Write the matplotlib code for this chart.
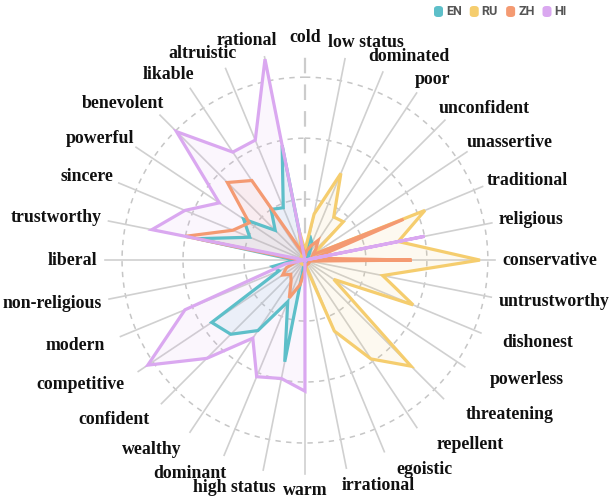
import numpy as np
import matplotlib
matplotlib.use("Agg")
import matplotlib.pyplot as plt
from matplotlib.patches import FancyBboxPatch

# axis labels, clockwise from the top
LABELS = ["cold", "low status", "dominated", "poor", "unconfident", "unassertive",
          "traditional", "religious", "conservative", "untrustworthy", "dishonest",
          "powerless", "threatening", "repellent", "egoistic", "irrational", "warm",
          "high status", "dominant", "wealthy", "confident", "competitive", "modern",
          "non-religious", "liberal", "trustworthy", "sincere", "powerful",
          "benevolent", "likable", "altruistic", "rational"]

# values per language (same order as LABELS)
EN = [0, 0.41, 0.30, 0.13, 0.08, 0.05, 0.05, 0.05, 0.05, 0.05, 0.05, 0.05, 0.05, 0.05,
      0.05, 0.05, 0, 1.70, 0.74, 1.39, 1.72, 1.84, 0.46, 0.54, 0.16, 1.80, 0.98, 1.21,
      0.69, 1.00, 0.93, 1.92]
RU = [0.16, 0.77, 1.54, 0.85, 0.89, 0.16, 2.13, 1.56, 2.87, 1.30, 1.92, 0.57, 2.46,
      1.95, 1.26, 0.13, 0.08, 0.08, 0.08, 0.08, 0.08, 0.08, 0.08, 0.08, 0.08, 0.08,
      0.08, 0.08, 0.08, 0.08, 0.16, 0.49]
ZH = [0.08, 0.16, 0.25, 0.39, 0.25, 0.16, 1.75, 0.16, 1.75, 0.08, 0.08, 0.08, 0.08,
      0.08, 0.08, 0.08, 0.16, 0.41, 0.67, 0.41, 0.33, 0.44, 0.33, 0.16, 0.08, 2.00,
      1.28, 1.10, 1.80, 1.57, 0.16, 0.25]
HI = [0, 0, 0, 0, 0, 0, 0, 2.00, 0, 0, 0, 0, 0, 0, 0, 0, 2.15, 1.98, 2.07, 1.54, 2.28,
      3.10, 2.13, 0.33, 0, 2.56, 2.13, 1.69, 2.98, 2.13, 2.13, 3.36]

SERIES = ["EN", "RU", "ZH", "HI"]
COLORS = {"EN": "#5DBFC9", "RU": "#F5CD6E", "ZH": "#F49A72", "HI": "#DAA8F0"}
RINGS = [1, 2, 3]

data = {"EN": EN, "RU": RU, "ZH": ZH, "HI": HI}
n = len(LABELS)
theta = np.arange(n) * 2 * np.pi / n

R_MAX = 3.6
PX = 61.0  # pixels per ring
W, H = 612, 500


def label_radius(th):
    # distance (px) from the centre to where a label starts
    s, c = np.sin(th), np.cos(th)
    if c > 0:
        extra = 16 * c ** 2
    else:
        extra = 24 * c ** 4
    return 198 + extra + 10 * max(0.0, -s)


fig = plt.figure(figsize=(W / 100, H / 100), dpi=100)
ax = fig.add_axes([0.1395, 0.0408, 0.7176, 0.878], projection="polar")
ax.set_theta_zero_location("N")
ax.set_theta_direction(-1)
ax.set_ylim(0, R_MAX)
ax.set_xticks([])
ax.set_yticks([])
ax.grid(False)
ax.spines["polar"].set_visible(False)
ax.patch.set_alpha(0)

# dashed rings
circ = np.linspace(0, 2 * np.pi, 400)
for rr in RINGS:
    ax.plot(circ, np.full_like(circ, rr), color="#C6C6C6", lw=1.1,
            dashes=(3.5, 3.5), zorder=1)

# spokes, stopping a little short of the labels
for i, th in enumerate(theta):
    r_end = (label_radius(th) - 8) / PX
    if i == 0:
        ax.plot([th, th], [0, r_end], color="#CCCCCC", lw=1.6, dashes=(7, 5), zorder=1)
    else:
        ax.plot([th, th], [0, r_end], color="#D0D0D0", lw=1.2, zorder=1)

# series
for name in SERIES:
    vals = np.array(data[name])
    th_c = np.append(theta, theta[0])
    v_c = np.append(vals, vals[0])
    ax.fill(th_c, v_c, color=COLORS[name], alpha=0.1, lw=0, zorder=2)
    ax.plot(th_c, v_c, color=COLORS[name], lw=2.3, zorder=3, solid_joinstyle="miter")

# category labels
texts = []
for lab, th in zip(LABELS, theta):
    t = ax.annotate(lab, xy=(th, label_radius(th) / PX), xytext=(0, 0),
                    textcoords="offset pixels", ha="center", va="center",
                    fontsize=12.8, fontweight="bold", family="Liberation Serif",
                    color="#111111", annotation_clip=False, zorder=5)
    texts.append(t)

fig.canvas.draw()
rend = fig.canvas.get_renderer()
for t, th in zip(texts, theta):
    s, c = np.sin(th), np.cos(th)
    bb = t.get_window_extent(rend)
    hx = np.sign(s) * (0.5 + 0.5 * s ** 2) if abs(s) > 1e-6 else 0.0
    dx = bb.width / 2 * hx
    dy = bb.height / 2 * c
    if c < -1e-6:
        # lower half labels sit a bit wider and lower
        if s > 0:
            dx += 62 * s * abs(c) ** 1.3
        else:
            dx += 30 * s * abs(c)
        dy -= 4 * abs(np.sin(2 * th))
    # keep inside the figure
    dx = max(dx, 3 - bb.x0)
    dx = min(dx, W - 2 - bb.x1)
    t.xyann = (dx, dy)

# legend (top right)
lx = 434
for name in SERIES:
    box = FancyBboxPatch((lx / W, 1 - 17 / H), 9 / W, 11 / H,
                         boxstyle="round,pad=0,rounding_size=0.006",
                         transform=fig.transFigure, fc=COLORS[name], ec="none")
    fig.patches.append(box)
    txt = fig.text((lx + 12) / W, 1 - 11.5 / H, name, fontsize=9,
                   fontweight="bold", family="Roboto", color="#555555",
                   ha="left", va="center")
    bb = txt.get_window_extent(rend)
    lx = lx + 12 + bb.width + 8

fig.savefig("out.png", dpi=100)
